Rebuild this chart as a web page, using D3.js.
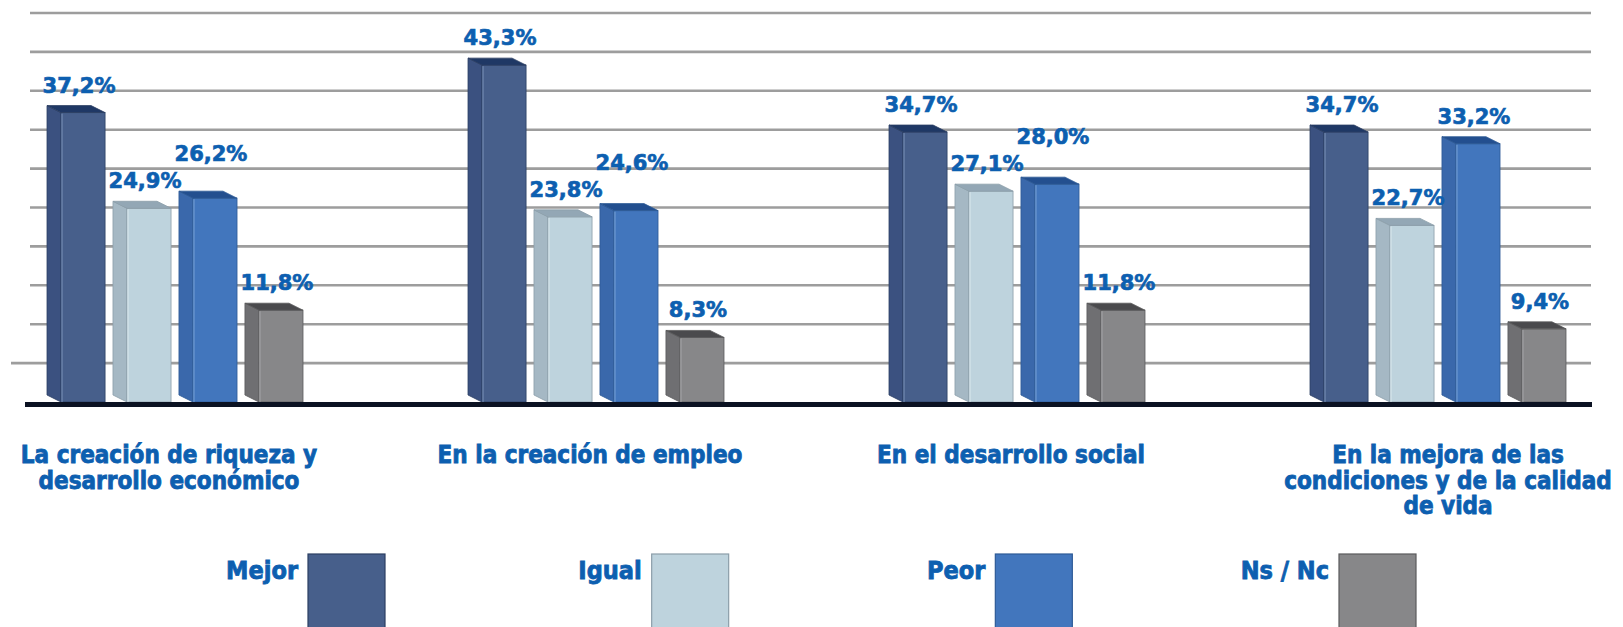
<!DOCTYPE html>
<html>
<head>
<meta charset="utf-8">
<script src="https://cdn.jsdelivr.net/npm/d3@7"></script>
<style>
  html, body { margin: 0; padding: 0; background: #ffffff; overflow: hidden; }
  svg { display: block; }
  .cond { font-family: "Liberation Sans Narrow", "DejaVu Sans Condensed", "Roboto Condensed", "Liberation Sans", Arial, sans-serif; font-weight: bold; font-stretch: condensed; }
  .val { font-family: "DejaVu Sans", Verdana, sans-serif; font-weight: bold; }
</style>
</head>
<body>
<svg id="chart" width="1623" height="627"></svg>
<script>
// ---- data ----
const categories = [
  "La creación de riqueza y desarrollo económico",
  "En la creación de empleo",
  "En el desarrollo social",
  "En la mejora de las condiciones y de la calidad de vida"
];
const categoryLines = [
  ["La creación de riqueza y", "desarrollo económico"],
  ["En la creación de empleo"],
  ["En el desarrollo social"],
  ["En la mejora de las", "condiciones y de la calidad", "de vida"]
];
const seriesNames = ["Mejor", "Igual", "Peor", "Ns / Nc"];
const mejor = [37.2, 43.3, 34.7, 34.7];
const igual = [24.9, 23.8, 27.1, 22.7];
const peor  = [26.2, 24.6, 28.0, 33.2];
const nsnc  = [11.8, 8.3, 11.8, 9.4];
const gridTicks = [5, 10, 15, 20, 25, 30, 35, 40, 45, 50];

const seriesValues = [mejor, igual, peor, nsnc];

// ---- styles ----
const faceColors = {
  "Mejor":   { front: "#475f8b", side: "#3b5180", top: "#1f3865", stroke: "#2c3f63", hl: "#7d93ba" },
  "Igual":   { front: "#bed3dd", side: "#a5b8c4", top: "#93a7b5", stroke: "#8c9ea9", hl: "#dde9ef" },
  "Peor":    { front: "#4276bd", side: "#3a68ab", top: "#234f8f", stroke: "#2d5a96", hl: "#7aa3d8" },
  "Ns / Nc": { front: "#878789", side: "#6f6f72", top: "#4a4a4d", stroke: "#5a5a5c", hl: "#a9a9ab" }
};
const labelBlue = "#0d5fb0";

const svg = d3.select("#chart");

// ---- scales ----
const x0 = d3.scaleBand().domain(categories).range([-35.5, 1648.5]).paddingInner(0);
const groupWidth = 256;
const x1 = d3.scaleBand().domain(seriesNames).range([0, groupWidth]).paddingInner(0.12);
const y = d3.scaleLinear().domain([0, 50]).range([402, 13]);
const depthX = 14, depthY = 7;

// ---- gridlines ----
const gridG = svg.append("g");
gridG.selectAll("line").data(gridTicks).join("line")
  .attr("x1", d => d === gridTicks[0] ? 11 : 30)
  .attr("x2", 1591)
  .attr("y1", d => y(d)).attr("y2", d => y(d))
  .attr("stroke", "#9d9d9d").attr("stroke-width", 2.6);

// ---- bars ----
const groups = svg.append("g").selectAll("g").data(categories).join("g")
  .attr("transform", c => `translate(${x0(c) + x0.bandwidth() / 2 - groupWidth / 2},0)`);

const bw = x1.bandwidth();
const base = y(0);

groups.each(function (c, ci) {
  const g = d3.select(this);
  seriesNames.forEach((s, si) => {
    const v = seriesValues[si][ci];
    const col = faceColors[s];
    const xl = x1(s);
    const yt = y(v);
    g.append("path")
      .attr("d", `M${xl},${yt - depthY} L${xl + depthX},${yt} L${xl + depthX},${base} L${xl},${base - depthY} Z`)
      .attr("fill", col.side).attr("stroke", col.stroke).attr("stroke-width", 0.8);
    g.append("rect")
      .attr("x", xl + depthX).attr("y", yt)
      .attr("width", bw - depthX).attr("height", base - yt)
      .attr("fill", col.front).attr("stroke", col.stroke).attr("stroke-width", 0.8);
    g.append("line")
      .attr("x1", xl + depthX + 1).attr("x2", xl + depthX + 1)
      .attr("y1", yt + 1).attr("y2", base)
      .attr("stroke", col.hl).attr("stroke-width", 1);
    g.append("path")
      .attr("d", `M${xl},${yt - depthY} L${xl + bw - depthX},${yt - depthY} L${xl + bw},${yt} L${xl + depthX},${yt} Z`)
      .attr("fill", col.top).attr("stroke", col.stroke).attr("stroke-width", 0.8);
  });

  // value labels with simple collision avoidance
  let prev = null;
  const fs = 21, capH = 16, gap = 13;
  seriesNames.forEach((s, si) => {
    const v = seriesValues[si][ci];
    const cx = x1(s) + bw / 2 + 3;
    let by = y(v) - depthY - gap;
    const txt = v.toFixed(1).replace(".", ",") + "%";
    const halfW = 37;
    if (prev && cx - halfW < prev.cx + prev.halfW && by > prev.by - capH - 2 && by - capH < prev.by) {
      by = prev.by - capH - 11;
    }
    g.append("text").attr("class", "val")
      .attr("x", cx).attr("y", by)
      .attr("text-anchor", "middle")
      .attr("font-size", fs)
      .attr("fill", labelBlue)
      .attr("stroke", labelBlue).attr("stroke-width", 0.7)
      .text(txt);
    prev = { cx, by, halfW };
  });
});

// ---- baseline ----
svg.append("line")
  .attr("x1", 25).attr("x2", 1592)
  .attr("y1", base + 2.5).attr("y2", base + 2.5)
  .attr("stroke", "#0b1222").attr("stroke-width", 5);

// ---- category labels ----
const catG = svg.append("g");
categories.forEach((c, ci) => {
  const cx = x0(c) + x0.bandwidth() / 2 - 6 + (ci === 3 ? 16 : 0);
  const t = catG.append("text").attr("class", "cond")
    .attr("text-anchor", "middle")
    .attr("font-size", 24)
    .attr("fill", labelBlue)
    .attr("stroke", labelBlue).attr("stroke-width", 0.8);
  categoryLines[ci].forEach((line, li) => {
    t.append("tspan").attr("x", cx).attr("y", 463 + li * 25.5).text(line);
  });
});

// ---- legend ----
const lx = d3.scalePoint().domain(seriesNames).range([308, 1339]);
const legG = svg.append("g");
seriesNames.forEach(s => {
  const col = faceColors[s];
  legG.append("rect")
    .attr("x", lx(s)).attr("y", 554)
    .attr("width", 77).attr("height", 90)
    .attr("fill", col.front).attr("stroke", col.stroke).attr("stroke-width", 1.2);
  legG.append("text").attr("class", "cond")
    .attr("x", lx(s) - 10).attr("y", 579)
    .attr("text-anchor", "end")
    .attr("font-size", 25)
    .attr("fill", labelBlue)
    .attr("stroke", labelBlue).attr("stroke-width", 0.8)
    .text(s);
});
</script>
</body>
</html>
